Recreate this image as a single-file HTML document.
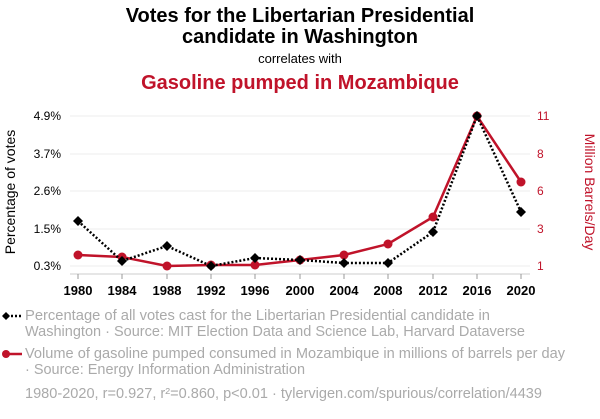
<!DOCTYPE html>
<html><head><style>
body{margin:0;background:#fff;width:600px;height:414px;overflow:hidden;font-family:"Liberation Sans",sans-serif}
</style></head><body>
<svg width="600" height="414" xmlns="http://www.w3.org/2000/svg" font-family="Liberation Sans, sans-serif">
<text x="300" y="22" text-anchor="middle" font-size="20" font-weight="bold" fill="#000">Votes for the Libertarian Presidential</text>
<text x="300" y="43" text-anchor="middle" font-size="20" font-weight="bold" fill="#000">candidate in Washington</text>
<text x="300" y="63" text-anchor="middle" font-size="13" fill="#000">correlates with</text>
<text x="300" y="89" text-anchor="middle" font-size="20" font-weight="bold" fill="#c0132a">Gasoline pumped in Mozambique</text>
<g stroke="#eee" stroke-width="1">
<line x1="70" x2="530" y1="116" y2="116"/><line x1="70" x2="530" y1="154" y2="154"/>
<line x1="70" x2="530" y1="191" y2="191"/><line x1="70" x2="530" y1="229" y2="229"/>
<line x1="70" x2="530" y1="266" y2="266"/>
</g>
<line x1="70" x2="530" y1="274" y2="274" stroke="#ccc"/>
<g stroke="#999">
<line x1="78" x2="78" y1="274" y2="279"/><line x1="122" x2="122" y1="274" y2="279"/><line x1="167" x2="167" y1="274" y2="279"/><line x1="211" x2="211" y1="274" y2="279"/><line x1="255" x2="255" y1="274" y2="279"/><line x1="300" x2="300" y1="274" y2="279"/><line x1="344" x2="344" y1="274" y2="279"/><line x1="388" x2="388" y1="274" y2="279"/><line x1="433" x2="433" y1="274" y2="279"/><line x1="477" x2="477" y1="274" y2="279"/><line x1="521" x2="521" y1="274" y2="279"/>
</g>
<g font-size="12" text-anchor="end" fill="#000">
<text x="61" y="120">4.9%</text><text x="61" y="158">3.7%</text><text x="61" y="195">2.6%</text><text x="61" y="233">1.5%</text><text x="61" y="270">0.3%</text>
</g>
<g font-size="12" fill="#c0132a">
<text x="537" y="120">11</text><text x="537" y="158">8</text><text x="537" y="195">6</text><text x="537" y="233">3</text><text x="537" y="270">1</text>
</g>
<g font-size="13" font-weight="bold" text-anchor="middle" fill="#000">
<text x="78" y="295">1980</text><text x="122" y="295">1984</text><text x="167" y="295">1988</text><text x="211" y="295">1992</text><text x="255" y="295">1996</text><text x="300" y="295">2000</text><text x="344" y="295">2004</text><text x="388" y="295">2008</text><text x="433" y="295">2012</text><text x="477" y="295">2016</text><text x="521" y="295">2020</text>
</g>
<text transform="translate(15,192) rotate(-90)" text-anchor="middle" font-size="14" fill="#000">Percentage of votes</text>
<text transform="translate(585,192) rotate(90)" text-anchor="middle" font-size="14" fill="#c0132a">Million Barrels/Day</text>
<polyline fill="none" stroke="#c0132a" stroke-width="2.5" points="78,255 122,257 167,266 211,265 255,265 300,260 344,255 388,244 433,217 477,116 521,182"/>
<g fill="#c0132a">
<circle cx="78" cy="255" r="4.5"/><circle cx="122" cy="257" r="4.5"/><circle cx="167" cy="266" r="4.5"/><circle cx="211" cy="265" r="4.5"/><circle cx="255" cy="265" r="4.5"/><circle cx="300" cy="260" r="4.5"/><circle cx="344" cy="255" r="4.5"/><circle cx="388" cy="244" r="4.5"/><circle cx="433" cy="217" r="4.5"/><circle cx="477" cy="116" r="4.5"/><circle cx="521" cy="182" r="4.5"/>
</g>
<polyline fill="none" stroke="#000" stroke-width="2.5" stroke-dasharray="2,2" points="78,221 122,261 167,246 211,266 255,258 300,260 344,263 388,263 433,232 477,116 521,212"/>
<g fill="#000">
<path d="M78 216l5 5-5 5-5-5z"/><path d="M122 256l5 5-5 5-5-5z"/><path d="M167 241l5 5-5 5-5-5z"/><path d="M211 261l5 5-5 5-5-5z"/><path d="M255 253l5 5-5 5-5-5z"/><path d="M300 255l5 5-5 5-5-5z"/><path d="M344 258l5 5-5 5-5-5z"/><path d="M388 258l5 5-5 5-5-5z"/><path d="M433 227l5 5-5 5-5-5z"/><path d="M477 111l5 5-5 5-5-5z"/><path d="M521 207l5 5-5 5-5-5z"/>
</g>
<line x1="3" x2="22" y1="316" y2="316" stroke="#000" stroke-width="2.5" stroke-dasharray="2,2"/>
<path d="M6 312l4 4-4 4-4-4z" fill="#000"/>
<g font-size="14.5" fill="#aaa">
<text x="25" y="320" textLength="465" lengthAdjust="spacingAndGlyphs">Percentage of all votes cast for the Libertarian Presidential candidate in</text>
<text x="25" y="336" textLength="500" lengthAdjust="spacingAndGlyphs">Washington · Source: MIT Election Data and Science Lab, Harvard Dataverse</text>
<text x="25" y="358" textLength="540" lengthAdjust="spacingAndGlyphs">Volume of gasoline pumped consumed in Mozambique in millions of barrels per day</text>
<text x="25" y="374" textLength="280" lengthAdjust="spacingAndGlyphs">· Source: Energy Information Administration</text>
<text x="25" y="398" textLength="517" lengthAdjust="spacingAndGlyphs">1980-2020, r=0.927, r²=0.860, p&lt;0.01 · tylervigen.com/spurious/correlation/4439</text>
</g>
<line x1="3" x2="22" y1="354" y2="354" stroke="#c0132a" stroke-width="2.5"/>
<circle cx="6" cy="354" r="4" fill="#c0132a"/>
</svg>
</body></html>
